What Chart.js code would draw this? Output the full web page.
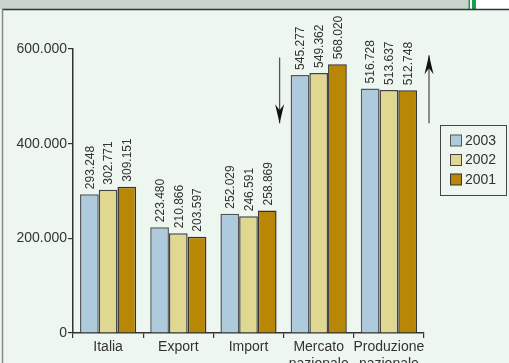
<!DOCTYPE html>
<html>
<head>
<meta charset="utf-8">
<script src="https://cdn.jsdelivr.net/npm/chart.js@4/dist/chart.umd.min.js"></script>
<style>
html,body{margin:0;padding:0;background:#eef6f0;overflow:hidden;}
canvas{display:block;}
</style>
</head>
<body>
<canvas id="c" width="509" height="363"></canvas>
<script>
const categories = [["Italia"], ["Export"], ["Import"], ["Mercato", "nazionale"], ["Produzione", "nazionale"]];
const seriesNames = ["2003", "2002", "2001"];
const values2003 = [293248, 223480, 252029, 545277, 516728];
const values2002 = [302771, 210866, 246591, 549362, 513637];
const values2001 = [309151, 203597, 258869, 568020, 512748];
const yTicks = [0, 200000, 400000, 600000];

const fills = ["#aecbdd", "#e0d890", "#b98706"];
const borders = ["#555", "#444", "#333"];
const FONT = "'Liberation Sans', Arial, Helvetica, sans-serif";
const fmt = v => String(v).replace(/\B(?=(\d{3})+(?!\d))/g, ".");

const decoPlugin = {
  id: "deco",
  beforeDraw(chart) {
    const ctx = chart.ctx;
    ctx.save();
    // top band
    ctx.fillStyle = "#c9d3ce";
    ctx.fillRect(0, 0, 509, 9);
    ctx.fillStyle = "#ffffff";
    ctx.fillRect(470, 0, 39, 9);
    ctx.fillStyle = "#1a9e4a";
    ctx.fillRect(468.5, 0, 1.5, 9);
    ctx.fillRect(472, 0, 4, 9);
    ctx.strokeStyle = "#333";
    ctx.lineWidth = 1.5;
    ctx.beginPath(); ctx.moveTo(2, 9.5); ctx.lineTo(509, 9.5); ctx.stroke();
    ctx.strokeStyle = "#888";
    ctx.lineWidth = 1.5;
    ctx.beginPath(); ctx.moveTo(2.5, 9); ctx.lineTo(2.5, 363); ctx.stroke();
    ctx.restore();
  },
  afterDatasetsDraw(chart) {
    const ctx = chart.ctx;
    const x = chart.scales.x, y = chart.scales.y;
    ctx.save();
    // value labels
    ctx.font = "12px " + FONT;
    ctx.fillStyle = "#333";
    ctx.textAlign = "left";
    ctx.textBaseline = "middle";
    chart.data.datasets.forEach((ds, di) => {
      chart.getDatasetMeta(di).data.forEach((bar, i) => {
        ctx.save();
        ctx.translate(bar.x + 1, bar.y - 5);
        ctx.rotate(-Math.PI / 2);
        ctx.fillText(fmt(ds.data[i]), 0, 0);
        ctx.restore();
      });
    });
    // arrows
    const arrow = (ax, yTop, yBot, down) => {
      ctx.strokeStyle = "#555";
      ctx.lineWidth = 1.3;
      ctx.beginPath();
      ctx.moveTo(ax, yTop); ctx.lineTo(ax, yBot);
      ctx.stroke();
      ctx.fillStyle = "#111";
      ctx.beginPath();
      if (down) {
        ctx.moveTo(ax, yBot);
        ctx.lineTo(ax - 4.5, yBot - 19);
        ctx.lineTo(ax, yBot - 13);
        ctx.lineTo(ax + 4.5, yBot - 19);
      } else {
        ctx.moveTo(ax, yTop);
        ctx.lineTo(ax - 4.5, yTop + 19);
        ctx.lineTo(ax, yTop + 13);
        ctx.lineTo(ax + 4.5, yTop + 19);
      }
      ctx.closePath();
      ctx.fill();
    };
    const bx = (x.getPixelForValue(2) + x.getPixelForValue(3)) / 2 - 4;
    arrow(bx, y.getPixelForValue(582000), y.getPixelForValue(443000), true);
    arrow(x.right + 5, y.getPixelForValue(587000), y.getPixelForValue(443000), false);
    // legend box
    ctx.strokeStyle = "#444";
    ctx.lineWidth = 1;
    ctx.fillStyle = "#eef6f0";
    ctx.fillRect(440.5, 125.5, 66, 70);
    ctx.strokeRect(440.5, 125.5, 66, 70);
    ctx.font = "14px " + FONT;
    ctx.textBaseline = "middle";
    chart.data.datasets.forEach((ds, di) => {
      const cy = 141 + di * 19.5;
      ctx.fillStyle = ds.backgroundColor;
      ctx.fillRect(450.5, cy - 6, 11, 11);
      ctx.strokeStyle = ds.borderColor;
      ctx.strokeRect(450.5, cy - 6, 11, 11);
      ctx.fillStyle = "#333";
      ctx.fillText(ds.label, 465, cy);
    });
    ctx.restore();
  }
};

new Chart(document.getElementById("c"), {
  type: "bar",
  data: {
    labels: categories,
    datasets: [values2003, values2002, values2001].map((d, i) => ({
      label: seriesNames[i],
      data: d,
      backgroundColor: fills[i],
      borderColor: borders[i],
      borderWidth: 1.5,
      categoryPercentage: 0.8,
      barPercentage: 1.0
    }))
  },
  options: {
    responsive: false,
    animation: false,
    devicePixelRatio: 1,
    layout: { padding: { left: 0, right: 85, top: 49, bottom: 0 } },
    plugins: { legend: { display: false }, tooltip: { enabled: false } },
    scales: {
      x: {
        grid: { drawOnChartArea: false, drawTicks: true, tickLength: 5, color: "#333", lineWidth: 1.2, offset: true },
        border: { color: "#333", width: 1.5 },
        ticks: { font: { size: 14, family: FONT }, color: "#333", padding: 1, maxRotation: 0, autoSkip: false },
        afterFit: s => { s.height = 30; }
      },
      y: {
        min: 0, max: 600000,
        afterBuildTicks: s => { s.ticks = yTicks.map(v => ({ value: v })); },
        grid: { drawOnChartArea: false, drawTicks: true, tickLength: 5, color: "#333", lineWidth: 1.2 },
        border: { color: "#333", width: 1.5 },
        ticks: { font: { size: 14, family: FONT }, color: "#333", padding: 1, callback: v => fmt(v) },
        afterFit: s => { s.width = 73; }
      }
    }
  },
  plugins: [decoPlugin]
});
</script>
</body>
</html>
